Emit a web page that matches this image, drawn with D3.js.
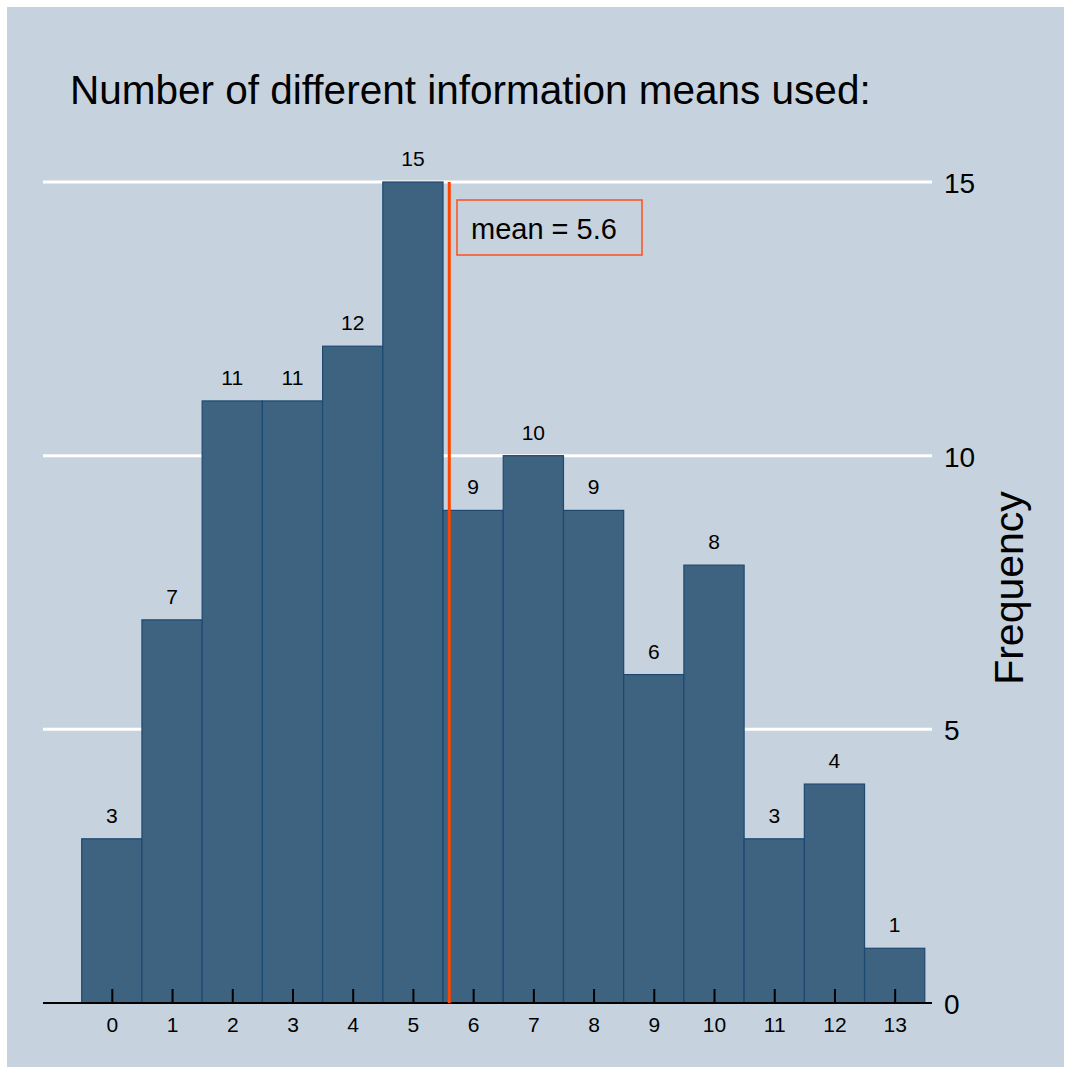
<!DOCTYPE html>
<html><head><meta charset="utf-8">
<script src="https://cdn.jsdelivr.net/npm/d3@7"></script>
<style>body{margin:0;background:#fff;} svg{display:block;font-family:"Liberation Sans",Arial,sans-serif;}</style>
</head><body>
<script>
const categories = [0,1,2,3,4,5,6,7,8,9,10,11,12,13];
const frequencies = [3,7,11,11,12,15,9,10,9,6,8,3,4,1];
const yTicks = [0,5,10,15];
const titleText = "Number of different information means used:";
const yLabel = "Frequency";

const W = 1071, H = 1074;
const svg = d3.select("body").append("svg").attr("width", W).attr("height", H);
svg.append("rect").attr("x",7).attr("y",7).attr("width",1057).attr("height",1060).attr("fill","#c6d3df");

const x = d3.scaleLinear().domain([-1.143, 13.62]).range([43, 932]);
const y = d3.scaleLinear().domain([0, 15]).range([1003, 182]);

// gridlines
svg.append("g").selectAll("line").data(yTicks.filter(d=>d>0)).join("line")
  .attr("x1",43).attr("x2",932).attr("y1",d=>y(d)).attr("y2",d=>y(d))
  .attr("stroke","#ffffff").attr("stroke-width",3);

// bars
svg.append("g").selectAll("rect").data(categories).join("rect")
  .attr("x",(d)=>x(d-0.5)).attr("width",(d)=>x(d+0.5)-x(d-0.5))
  .attr("y",(d,i)=>y(frequencies[i])).attr("height",(d,i)=>y(0)-y(frequencies[i]))
  .attr("fill","#3e6380").attr("stroke","#1d4870").attr("stroke-width",1.2);

// bar labels
svg.append("g").selectAll("text").data(categories).join("text")
  .attr("x",d=>x(d)).attr("y",(d,i)=>y(frequencies[i])-16)
  .attr("text-anchor","middle").attr("font-size",21).attr("fill","#000")
  .text((d,i)=>frequencies[i]);

// x axis
const xAxis = d3.axisBottom(x).tickValues(categories).tickSize(-14).tickPadding(26).tickFormat(d3.format("d"));
const gx = svg.append("g").attr("transform",`translate(0,${y(0)})`).call(xAxis);
gx.select(".domain").remove();
gx.append("line").attr("x1",43).attr("x2",932).attr("stroke","#000").attr("stroke-width",2);
gx.selectAll(".tick line").attr("stroke","#000").attr("stroke-width",2);
gx.selectAll(".tick text").attr("font-size",21).attr("fill","#000").attr("font-family","Liberation Sans, Arial, sans-serif").attr("dy",null).attr("y",29);

// y axis (right)
const yAxis = d3.axisRight(y).tickValues(yTicks).tickSize(0).tickPadding(12);
const gy = svg.append("g").attr("transform",`translate(932,0)`).call(yAxis);
gy.select(".domain").remove();
gy.selectAll(".tick text").attr("font-size",28).attr("fill","#000").attr("font-family","Liberation Sans, Arial, sans-serif").attr("dy","0.38em");

// mean line
const meanVal = d3.sum(categories.map((c,i)=>c*frequencies[i]))/d3.sum(frequencies);
svg.append("line").attr("x1",x(meanVal)+1).attr("x2",x(meanVal)+1).attr("y1",y(15)).attr("y2",y(0))
  .attr("stroke","#ff4500").attr("stroke-width",3);
svg.append("rect").attr("x",457).attr("y",200).attr("width",185).attr("height",55)
  .attr("fill","none").attr("stroke","#ff4f1a").attr("stroke-width",1.5);
svg.append("text").attr("x",471).attr("y",239).attr("font-size",29).attr("fill","#000")
  .text("mean = " + meanVal.toFixed(1));

// title
svg.append("text").attr("x",70).attr("y",104).attr("font-size",40.5).attr("fill","#000").text(titleText);

// y label
svg.append("text").attr("transform","translate(1023,588) rotate(-90)").attr("text-anchor","middle")
  .attr("font-size",41).attr("fill","#000").text(yLabel);
</script>
</body></html>
